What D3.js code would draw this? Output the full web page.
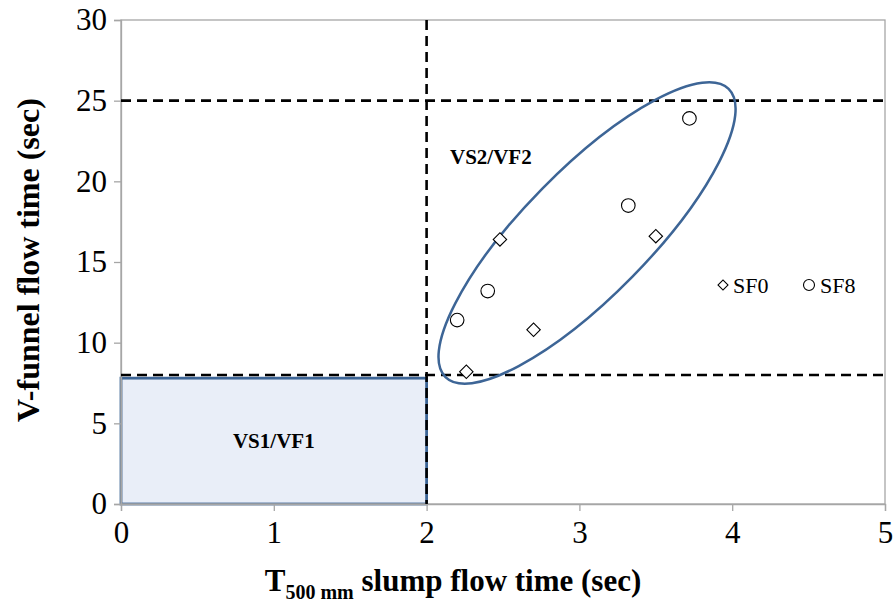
<!DOCTYPE html>
<html>
<head>
<meta charset="utf-8">
<script src="https://cdn.jsdelivr.net/npm/d3@7"></script>
<style>
  html, body { margin: 0; padding: 0; background: #fff; }
</style>
</head>
<body>
<svg id="chart" width="894" height="603"></svg>
<script>
// ---- data ----
const xTicks = [0, 1, 2, 3, 4, 5];
const yTicks = [0, 5, 10, 15, 20, 25, 30];
const sf0X = [2.26, 2.48, 2.70, 3.50];
const sf0Y = [8.2, 16.4, 10.8, 16.6];
const sf8X = [2.20, 2.40, 3.32, 3.72];
const sf8Y = [11.4, 13.2, 18.5, 23.9];
const seriesNames = ["SF0", "SF8"];
const hLimits = [8, 25];      // V-funnel class limits
const vLimits = [2];          // T500 class limit
const vs1Box = { x0: 0, x1: 2, y0: 0, y1: 7.8 };
const zoneLabels = ["VS1/VF1", "VS2/VF2"];
const xTitle = "T";
const xTitleSub = "500 mm";
const xTitleRest = " slump flow time (sec)";
const yTitle = "V-funnel flow time (sec)";

// ---- layout ----
const svg = d3.select("#chart");
const L = 121, R = 885, T = 20, B = 504;
const x = d3.scaleLinear().domain([0, 5]).range([L, R]);
const y = d3.scaleLinear().domain([0, 30]).range([B, T]);
const gray = "#a6a6a6";
const blue = "#3d6596";
const serif = "'Liberation Serif', 'Times New Roman', serif";

// VS1/VF1 box
svg.append("rect")
  .attr("x", x(vs1Box.x0)).attr("y", y(vs1Box.y1))
  .attr("width", x(vs1Box.x1) - x(vs1Box.x0))
  .attr("height", y(vs1Box.y0) - y(vs1Box.y1))
  .attr("fill", "#e9eef8").attr("stroke", blue).attr("stroke-width", 2.8);

// frame
svg.append("rect").attr("x", L).attr("y", T).attr("width", R - L).attr("height", B - T)
  .attr("fill", "none").attr("stroke", gray).attr("stroke-width", 1.3);

// axes
const xAxis = svg.append("g").attr("transform", `translate(0,${B})`)
  .call(d3.axisBottom(x).tickValues(xTicks).tickSize(7).tickPadding(7).tickFormat(d3.format("d")));
const yAxis = svg.append("g").attr("transform", `translate(${L},0)`)
  .call(d3.axisLeft(y).tickValues(yTicks).tickSize(7).tickPadding(7).tickFormat(d3.format("d")));
[xAxis, yAxis].forEach(g => {
  g.select(".domain").attr("stroke", gray).attr("stroke-width", 1.3);
  g.selectAll(".tick line").attr("stroke", gray).attr("stroke-width", 1.3);
  g.selectAll(".tick text").attr("fill", "#000").attr("font-size", 31);
});
xAxis.selectAll(".tick text").attr("dy", "0.8em");

// dashed limit lines
hLimits.forEach(v => {
  svg.append("line").attr("x1", L).attr("x2", R).attr("y1", y(v)).attr("y2", y(v))
    .attr("stroke", "#000").attr("stroke-width", 2.6).attr("stroke-dasharray", "10,6");
});
vLimits.forEach(v => {
  svg.append("line").attr("x1", x(v)).attr("x2", x(v)).attr("y1", T).attr("y2", B)
    .attr("stroke", "#000").attr("stroke-width", 2.6).attr("stroke-dasharray", "10,6");
});

// ellipse annotation around data
const ell = { cx: 3.05, cy: 16.8, rx: 202, ry: 63, angle: -45.5 };
svg.append("ellipse")
  .attr("transform", `translate(${x(ell.cx)},${y(ell.cy)}) rotate(${ell.angle})`)
  .attr("rx", ell.rx).attr("ry", ell.ry)
  .attr("fill", "none").attr("stroke", blue).attr("stroke-width", 2.5);

// markers
const diamond = d3.symbol().type(d3.symbolSquare).size(90);
const sf0 = sf0X.map((v, i) => ({ x: v, y: sf0Y[i] }));
const sf8 = sf8X.map((v, i) => ({ x: v, y: sf8Y[i] }));
svg.selectAll(".sf0").data(sf0).enter().append("path")
  .attr("d", diamond)
  .attr("transform", d => `translate(${x(d.x)},${y(d.y)}) rotate(45)`)
  .attr("fill", "#fff").attr("stroke", "#000").attr("stroke-width", 1.1);
svg.selectAll(".sf8").data(sf8).enter().append("circle")
  .attr("cx", d => x(d.x)).attr("cy", d => y(d.y)).attr("r", 6.8)
  .attr("fill", "#fff").attr("stroke", "#000").attr("stroke-width", 1.1);

// legend
const lg = svg.append("g").attr("transform", "translate(723,285)");
lg.append("path").attr("d", d3.symbol().type(d3.symbolSquare).size(50))
  .attr("transform", "rotate(45)").attr("fill", "#fff").attr("stroke", "#000").attr("stroke-width", 1.1);
lg.append("text").attr("x", 10).attr("y", 8).attr("font-size", 22).text(seriesNames[0]);
lg.append("circle").attr("cx", 86).attr("cy", 0).attr("r", 5.5)
  .attr("fill", "#fff").attr("stroke", "#000").attr("stroke-width", 1.1);
lg.append("text").attr("x", 97).attr("y", 8).attr("font-size", 22).text(seriesNames[1]);

// zone labels
svg.append("text").attr("x", x(1)).attr("y", 448).attr("text-anchor", "middle")
  .attr("font-size", 21).attr("font-weight", "bold").text(zoneLabels[0]);
svg.append("text").attr("x", 450).attr("y", 164)
  .attr("font-size", 21).attr("font-weight", "bold").text(zoneLabels[1]);

// axis titles
const xt = svg.append("text").attr("x", 453).attr("y", 591).attr("text-anchor", "middle")
  .attr("font-size", 31).attr("font-weight", "bold");
xt.append("tspan").text(xTitle);
xt.append("tspan").attr("font-size", 20).attr("dy", 8).text(xTitleSub);
xt.append("tspan").attr("dy", -8).text(xTitleRest);

svg.append("text").attr("transform", "translate(39,260) rotate(-90)")
  .attr("text-anchor", "middle").attr("font-size", 32).attr("font-weight", "bold")
  .text(yTitle);

svg.selectAll("text").style("font-family", serif);
</script>
</body>
</html>
